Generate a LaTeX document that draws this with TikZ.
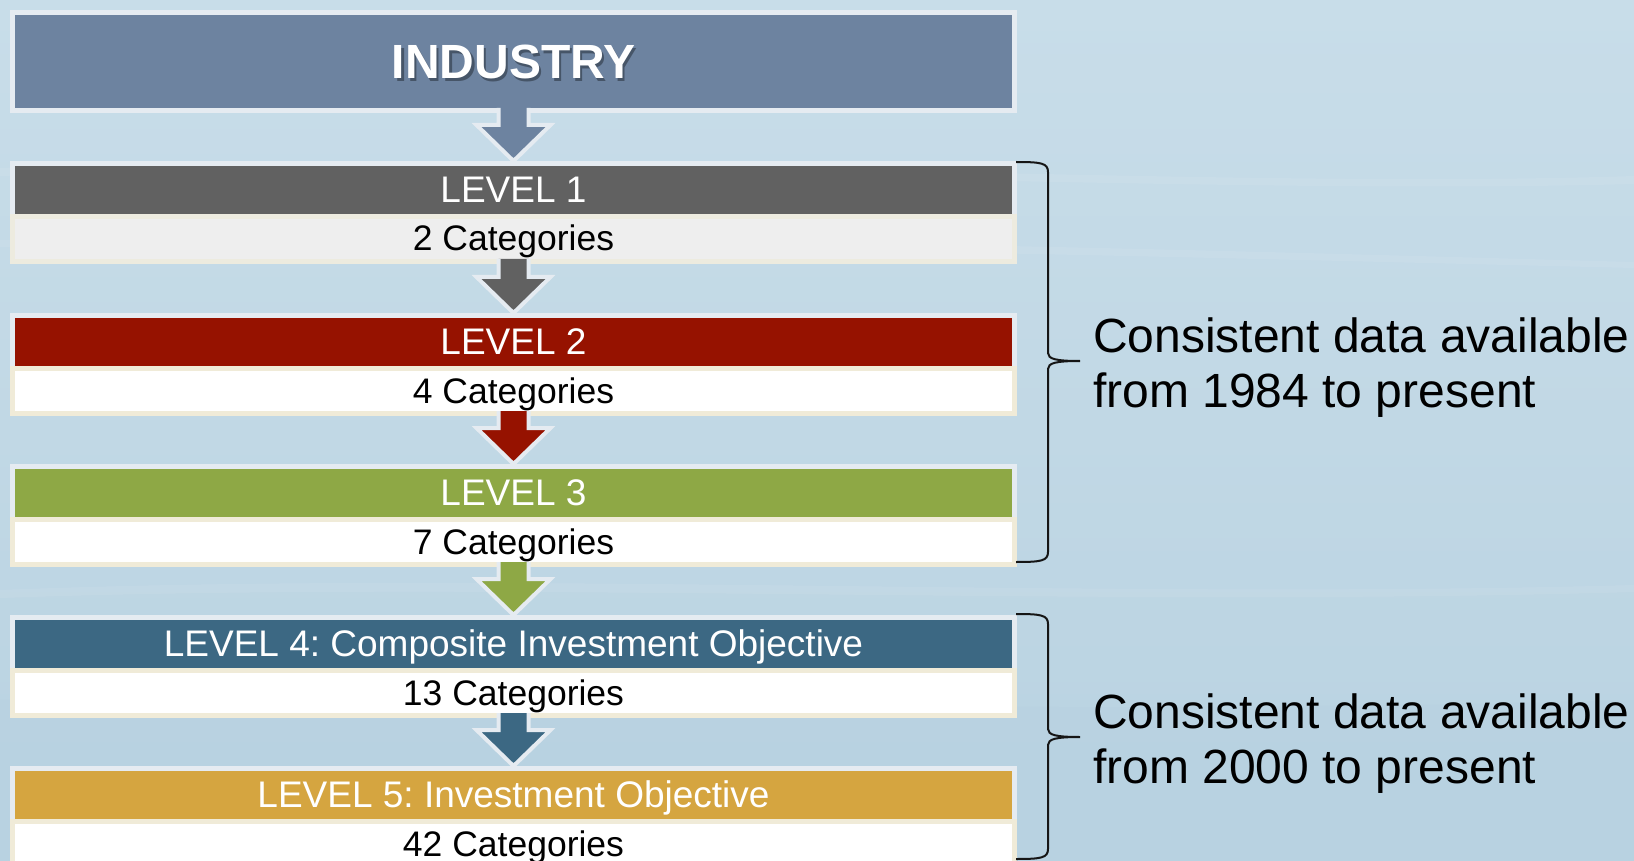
\documentclass[tikz,border=0pt]{standalone}
\usepackage{fontspec}
\setmainfont{Liberation Sans}
\usetikzlibrary{calc}
\frenchspacing
\definecolor{bgtop}{HTML}{C8DDE9}
\definecolor{bgmid}{HTML}{C1D8E5}
\definecolor{bgbot}{HTML}{B8D2E1}
\definecolor{tborder}{HTML}{E5EBF1}
\definecolor{cream}{HTML}{F0EBD8}
\definecolor{indc}{HTML}{6D83A0}
\definecolor{cone}{HTML}{616161}
\definecolor{ctwo}{HTML}{961200}
\definecolor{cthree}{HTML}{8EA845}
\definecolor{cfour}{HTML}{3C6883}
\definecolor{cfive}{HTML}{D5A540}
\definecolor{lightgray}{HTML}{EEEEEE}
\definecolor{bracec}{HTML}{151515}
\newcommand\blockarrow[3]{%
  \fill[#3] ($(#1.south)+(-15,-5)$) -- ($(#2.north)+(-15,-36)$) -- ($(#2.north)+(-37,-36)$) -- (#2.north)
    -- ($(#2.north)+(37,-36)$) -- ($(#2.north)+(15,-36)$) -- ($(#1.south)+(15,-5)$) -- cycle;
  \draw[arrowline] ($(#1.south)+(-15,-5)$) -- ($(#2.north)+(-15,-36)$) -- ($(#2.north)+(-37,-36)$) -- (#2.north)
    -- ($(#2.north)+(37,-36)$) -- ($(#2.north)+(15,-36)$) -- ($(#1.south)+(15,-5)$);}
\newcommand\mybrace[3]{%
  \draw[bracestyle] (1016,#1) .. controls (1041,#1) and (1048,{#1+1}) .. (1048,{#1+10})
    -- (1048,{#2-8}) .. controls (1048,{#2-2}) and (1056,#2) .. (1080,#2)
    .. controls (1056,#2) and (1048,{#2+2}) .. (1048,{#2+8})
    -- (1048,{#3-10}) .. controls (1048,{#3-1}) and (1041,#3) .. (1016,#3);}
\begin{document}
\begin{tikzpicture}[x=1pt,y=-1pt,
  titlebox/.style={draw=tborder, line width=5pt, minimum width=1002pt, minimum height=53pt,
    inner sep=0pt, text=white, font=\fontsize{37}{44}\selectfont, text height=26.5pt, text depth=1.5pt},
  catbox/.style={draw=cream, fill=white, line width=5pt, minimum width=1002pt, minimum height=45pt,
    inner sep=0pt, text=black, font=\fontsize{35.5}{43}\selectfont, text height=26pt, text depth=2pt},
  indbox/.style={draw=tborder, fill=indc, line width=5pt, minimum width=1002pt, minimum height=98pt, inner sep=0pt},
  indtext/.style={text=white, font=\fontsize{48}{56}\selectfont\bfseries, inner sep=0pt, text height=34.4pt, text depth=0pt},
  arrowline/.style={draw=tborder, line width=4pt, line join=miter},
  bracestyle/.style={draw=bracec, line width=2pt},
  lbl/.style={font=\fontsize{48}{55}\selectfont, text=black, align=left, inner sep=0pt}]
\useasboundingbox (0,0) rectangle (1634,861);
% background
\shade[top color=bgtop, bottom color=bgbot, middle color=bgmid] (0,0) rectangle (1634,861);
\fill[white, opacity=0.07] (0,168) .. controls (600,150) and (1200,190) .. (1634,176) -- (1634,184) .. controls (1200,196) and (600,160) .. (0,176) -- cycle;
\fill[white, opacity=0.07] (0,240) .. controls (600,232) and (1200,250) .. (1634,262) -- (1634,268) .. controls (1200,258) and (600,240) .. (0,247) -- cycle;
\fill[white, opacity=0.07] (0,590) .. controls (500,570) and (1100,600) .. (1634,585) -- (1634,592) .. controls (1100,608) and (500,580) .. (0,598) -- cycle;
\fill[bgbot, opacity=0.5] (0,700) .. controls (400,690) and (900,720) .. (1634,700) -- (1634,861) -- (0,861) -- cycle;
% industry
\node[indbox] (ind) at (513.5,61.5) {};
\node[indtext, text=black, opacity=0.35] (indsh) at ($(ind.center)+(2.5,2.5)$) {INDUSTRY};
\node[indtext] (indtx) at (ind.center) {INDUSTRY};
% levels
\node[titlebox, fill=cone] (l1t) at (513.5,190) {LEVEL 1};
\node[catbox, fill=lightgray, draw=cream!70!tborder] (l1c) at (513.5,239) {2 Categories};
\node[titlebox, fill=ctwo] (l2t) at (513.5,342) {LEVEL 2};
\node[catbox] (l2c) at (513.5,391) {4 Categories};
\node[titlebox, fill=cthree] (l3t) at (513.5,493) {LEVEL 3};
\node[catbox] (l3c) at (513.5,542) {7 Categories};
\node[titlebox, fill=cfour] (l4t) at (513.5,644) {LEVEL 4: Composite Investment Objective};
\node[catbox] (l4c) at (513.5,693) {13 Categories};
\node[titlebox, fill=cfive] (l5t) at (513.5,795) {LEVEL 5: Investment Objective};
\node[catbox] (l5c) at (513.5,844) {42 Categories};
% arrows
\blockarrow{ind}{l1t}{indc}
\blockarrow{l1c}{l2t}{cone}
\blockarrow{l2c}{l3t}{ctwo}
\blockarrow{l3c}{l4t}{cthree}
\blockarrow{l4c}{l5t}{cfour}
% braces
\mybrace{162}{361}{562}
\mybrace{614}{737}{859}
\node[lbl, anchor=base west] (lab1) at (1093,407) {Consistent data available\\from 1984 to present};
\node[lbl, anchor=base west] (lab2) at (1093,783) {Consistent data available\\from 2000 to present};
\end{tikzpicture}
\end{document}
